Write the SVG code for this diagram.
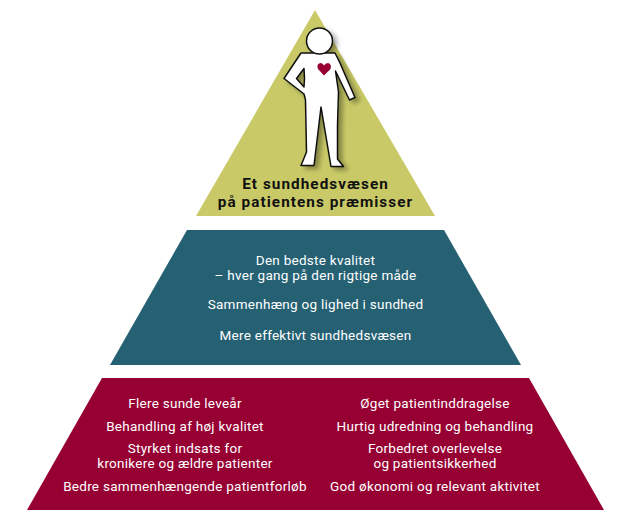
<svg xmlns="http://www.w3.org/2000/svg" width="630" height="520" viewBox="0 0 630 520">
<style>
text{font-family:"Roboto","Liberation Sans",sans-serif;font-size:13.5px;letter-spacing:.27px;fill:#fff;text-anchor:middle}
.b{font-weight:700;font-size:15.300px;letter-spacing:1.050px;fill:#111}
.o{fill:#fff;stroke:#111;stroke-width:1.5;stroke-linejoin:round;fill-rule:evenodd}
</style>
<defs><filter id="s" x="-30%" y="-30%" width="170%" height="170%"><feDropShadow dx="4" dy="3" stdDeviation="2.5" flood-color="#000" flood-opacity=".35"/></filter></defs>
<rect width="630" height="520" fill="#fff"/>
<g id="top">
<polygon points="315,10 435,216 196,216" fill="#c9ca67"/>
<g id="figure" filter="url(#s)">
<path class="o" d="M301,53 L335,53 L339.500,62 L355,97.500 L349.500,100 L335.500,71 L338.500,92 L337.500,125 L337.500,159 L343.500,166.500 L331,166.500 L321,107 L314,165.500 L301,165.500 L306.500,152 L305.500,100 L304,94 L284,78.500 Z M304,68.500 L296.500,78.500 L304,87 L304.500,78 Z"/>
<circle class="o" cx="319.500" cy="41" r="13"/>
</g>
<path id="heart" d="M324,75.500 L318,69 Q316,64 320.500,63 Q323,63 324,65.500 Q325.500,63 328,63 Q332,64 330.500,69 Z" fill="#960032"/>
<text class="b" x="315.500" y="188.500">Et sundhedsvæsen</text>
<text class="b" x="315.500" y="206.500">på patientens præmisser</text>
</g>
<g id="middle">
<polygon points="187,230 444,230 521,365 110,365" fill="#256173"/>
<text x="315.500" y="265">Den bedste kvalitet</text>
<text x="315.500" y="280">– hver gang på den rigtige måde</text>
<text x="315.500" y="309">Sammenhæng og lighed i sundhed</text>
<text x="315.500" y="340">Mere effektivt sundhedsvæsen</text>
</g>
<g id="bottom">
<polygon points="102,378 529,378 604,510 27,510" fill="#960032"/>
<text x="185" y="408">Flere sunde leveår</text>
<text x="185" y="431">Behandling af høj kvalitet</text>
<text x="185" y="453">Styrket indsats for</text>
<text x="185" y="468">kronikere og ældre patienter</text>
<text x="185" y="491">Bedre sammenhængende patientforløb</text>
<text x="435" y="408">Øget patientinddragelse</text>
<text x="435" y="431">Hurtig udredning og behandling</text>
<text x="435" y="453">Forbedret overlevelse</text>
<text x="435" y="468">og patientsikkerhed</text>
<text x="435" y="491">God økonomi og relevant aktivitet</text>
</g>
</svg>
